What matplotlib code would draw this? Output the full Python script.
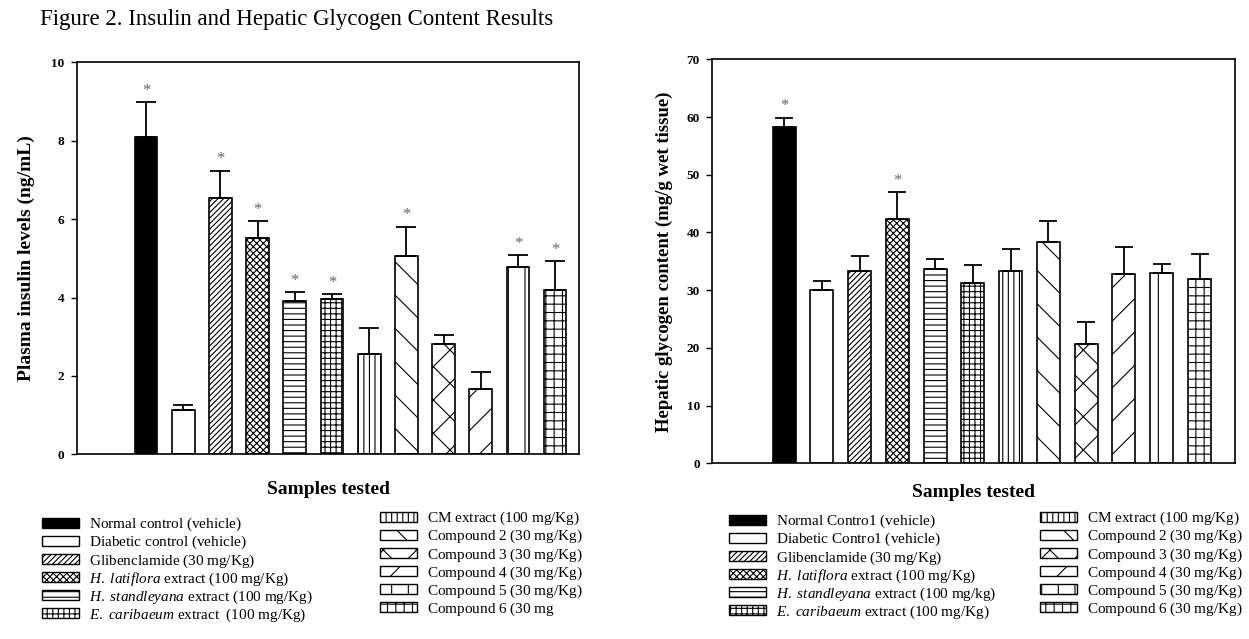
import matplotlib
matplotlib.use("Agg")
import matplotlib.pyplot as plt
from matplotlib.patches import Patch
import numpy as np

plt.rcParams['font.family'] = ['Liberation Serif', 'DejaVu Serif']
plt.rcParams['mathtext.fontset'] = 'custom'
plt.rcParams['mathtext.rm'] = 'Liberation Serif'
plt.rcParams['mathtext.it'] = 'Liberation Serif:italic'
plt.rcParams['hatch.linewidth'] = 0.8

# data
insulin     = [8.10, 1.13, 6.53, 5.53, 3.90, 3.97, 2.55, 5.06, 2.81, 1.67, 4.79, 4.18]
insulin_err = [0.89, 0.13, 0.71, 0.42, 0.25, 0.12, 0.68, 0.75, 0.24, 0.44, 0.29, 0.75]
insulin_sig = [1, 0, 1, 1, 1, 1, 0, 1, 0, 0, 1, 1]

glycogen     = [58.2, 30.0, 33.3, 42.3, 33.6, 31.2, 33.3, 38.3, 20.6, 32.8, 32.9, 31.9]
glycogen_err = [1.7, 1.5, 2.6, 4.7, 1.8, 3.2, 3.8, 3.6, 3.9, 4.6, 1.6, 4.3]
glycogen_sig = [1, 0, 0, 1, 0, 0, 0, 0, 0, 0, 0, 0]

# text between underscores is set in italics
labels_left = ["Normal control (vehicle)",
               "Diabetic control (vehicle)",
               "Glibenclamide (30 mg/Kg)",
               "_H. latiflora_ extract (100 mg/Kg)",
               "_H. standleyana_ extract (100 mg/Kg)",
               "_E. caribaeum_ extract  (100 mg/Kg)",
               "CM extract (100 mg/Kg)",
               "Compound 2 (30 mg/Kg)",
               "Compound 3 (30 mg/Kg)",
               "Compound 4 (30 mg/Kg)",
               "Compound 5 (30 mg/Kg)",
               "Compound 6 (30 mg"]
labels_right = ["Normal Contro1 (vehicle)",
                "Diabetic Contro1 (vehicle)",
                "Glibenclamide (30 mg/Kg)",
                "_H. latiflora_ extract (100 mg/Kg)",
                "_H. standleyana_ extract (100 mg/kg)",
                "_E. caribaeum_ extract (100 mg/Kg)",
                "CM extract (100 mg/Kg)",
                "Compound 2 (30 mg/Kg)",
                "Compound 3 (30 mg/Kg)",
                "Compound 4 (30 mg/Kg)",
                "Compound 5 (30 mg/Kg)",
                "Compound 6 (30 mg/Kg)"]

fills   = ['black'] + ['white'] * 11
hatches = [None, None, '//////', 'xxxxx', '---', '+++', '|||', '\\', 'x', '/', '|', '++']


def mtext(s):
    # everything goes through mathtext so that all legend rows get the same height
    out = ''
    for k, p in enumerate(s.split('_')):
        if p == '':
            continue
        p = p.replace(' ', r'\ ')
        if k % 2:
            out += r'\mathit{' + p + '}'
        else:
            out += r'\mathrm{' + p + '}'
    return '$' + out + '$'


def draw_panel(ax, vals, errs, sig, ymax, yticks, ylabel, star_off, ylsize, ylpad, xlpad, cap):
    x = np.arange(len(vals))
    ax.bar(x, vals, width=0.61, color=fills, edgecolor='black', linewidth=1.2,
           hatch=hatches, zorder=2)
    ax.errorbar(x, vals, yerr=[np.zeros(len(vals)), errs], fmt='none',
                ecolor='black', elinewidth=1.3, capsize=cap, capthick=1.3, zorder=3)
    for i in range(len(vals)):
        if sig[i]:
            ax.text(x[i], vals[i] + errs[i] + star_off, '*', ha='center', va='bottom',
                    fontsize=12, color='#666666')
    ax.set_ylim(0, ymax)
    ax.set_yticks(yticks)
    ax.set_xticks([])
    ax.tick_params(axis='y', direction='out', length=4, width=1, labelsize=9.5, pad=5)
    for t in ax.get_yticklabels():
        t.set_fontweight('bold')
    for s in ax.spines.values():
        s.set_linewidth(1.2)
    ax.set_ylabel(ylabel, fontsize=ylsize, fontweight='bold', labelpad=ylpad)
    ax.set_xlabel('Samples tested', fontsize=14, fontweight='bold', labelpad=xlpad)


fig = plt.figure(figsize=(12.49, 6.39), dpi=100)

ax1 = fig.add_axes([0.0616, 0.289, 0.4022, 0.6135])
draw_panel(ax1, insulin, insulin_err, insulin_sig, 10, [0, 2, 4, 6, 8, 10],
           'Plasma insulin levels (ng/mL)', 0.08, 14, 12, 19, 7)
ax1.set_xlim(-1.86, 11.65)

ax2 = fig.add_axes([0.5703, 0.275, 0.4185, 0.6322])
draw_panel(ax2, glycogen, glycogen_err, glycogen_sig, 70, [0, 10, 20, 30, 40, 50, 60, 70],
           'Hepatic glycogen content (mg/g wet tissue)', 0.6, 13.5, 10, 15, 6.5)
ax2.set_xlim(-1.9, 11.94)

fig.text(40 / 1249, 1 - 20 / 639, 'Figure 2. Insulin and Hepatic Glycogen Content Results',
         fontsize=16.5, ha='left', va='center')


def legend_col(idx, labels, px, py):
    handles = [Patch(facecolor=fills[i], edgecolor='black', hatch=hatches[i], linewidth=1.0)
               for i in idx]
    fig.legend(handles, [mtext(labels[i]) for i in idx], loc='upper left',
               bbox_to_anchor=(px / 1249, 1 - py / 639), frameon=False,
               fontsize=11, handlelength=2.45, handleheight=0.65, handletextpad=0.6,
               labelspacing=0.05, borderpad=0, borderaxespad=0)


legend_col(range(0, 6), labels_left, 42, 516)
legend_col(range(6, 12), labels_left, 380, 510)
legend_col(range(0, 6), labels_right, 729, 513)
legend_col(range(6, 12), labels_right, 1040, 510)

plt.savefig('out.png', dpi=100)
